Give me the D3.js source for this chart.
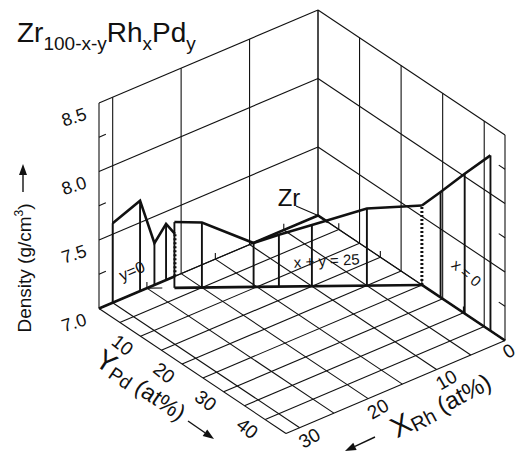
<!DOCTYPE html>
<html>
<head>
<meta charset="utf-8">
<script src="https://cdn.jsdelivr.net/npm/d3@7"></script>
<style>
  body { margin: 0; background: #fff; }
  text { font-family: "Liberation Sans", Arial, sans-serif; fill: #111; }
</style>
</head>
<body>
<div id="chart"></div>
<script>
// axis ranges and ticks
const rhMax = 32;
const pdMax = 45;
const densityMin = 7.0;
const densityMax = 8.5;
const densityTicks = [7.0, 7.5, 8.0, 8.5];
const densityMinor = [7.25, 7.75, 8.25];
const rhTicks = [0, 10, 20, 30];
const pdTicks = [10, 20, 30, 40];
const rhWallGrid = [10, 20, 30];
const pdWallGrid = [10, 20, 30, 40];
const rhFloorGrid = [0, 5, 10, 15, 20, 25, 30, 32];
const pdFloorGrid = [0, 5, 10, 15, 20, 25, 30, 35, 40, 45];
const rhMinor = [5, 15, 25];
const pdMinor = [5, 15, 25, 35];

// section y = 0 (Zr-Rh), last point dotted
const y0Rh = [30, 26, 23.9, 22.2, 20.9];
const y0Density = [7.58, 7.66, 7.305, 7.41, 7.31];

// section x = 0 (Zr-Pd), first point dotted
const x0Pd = [25, 29.5, 35.3, 41.5];
const x0Density = [7.58, 7.77, 8.02, 8.28];

// section x + y = 25, given by Rh content, last point dotted
const sRh = [22.5, 20, 15.3, 13, 10, 5, 0];
const sDensity = [7.48, 7.475, 7.32, 7.378, 7.447, 7.563, 7.58];

// binaries running toward pure Zr below the floor
const zrRh = [9.5, 0, 0];
const zrPd = [0, 0, 2.4];

const width = 520, height = 452;
const ox = 318, oy = 215.5;

// projection: one scale per screen component
const rhX = d3.scaleLinear().domain([0, rhMax]).range([0, -219]);
const rhY = d3.scaleLinear().domain([0, rhMax]).range([0, 93]);
const pdX = d3.scaleLinear().domain([0, pdMax]).range([0, 187]);
const pdY = d3.scaleLinear().domain([0, pdMax]).range([0, 125]);
const dY = d3.scaleLinear().domain([densityMin, densityMax]).range([0, -205.5]);

function proj(x, y, d) {
  return [ox + rhX(x) + pdX(y), oy + rhY(x) + pdY(y) + dY(d)];
}

const svg = d3.select('#chart').append('svg')
  .attr('width', width)
  .attr('height', height)
  .attr('viewBox', `0 0 ${width} ${height}`);

const line = d3.line();

function seg(g, pts, w, dash) {
  const p = g.append('path')
    .attr('d', line(pts.map(q => proj(q[0], q[1], q[2]))))
    .attr('fill', 'none')
    .attr('stroke', '#111')
    .attr('stroke-width', w)
    .attr('stroke-linejoin', 'miter');
  if (dash) p.attr('stroke-dasharray', dash);
  return p;
}

const grid = svg.append('g').attr('class', 'grid');

// floor
pdFloorGrid.forEach(y => seg(grid, [[0, y, 7], [rhMax, y, 7]], 1.1));
rhFloorGrid.forEach(x => seg(grid, [[x, 0, 7], [x, pdMax, 7]], 1.1));

// left wall (y = 0)
densityTicks.forEach(d => seg(grid, [[0, 0, d], [rhMax, 0, d]], 1.1));
rhWallGrid.concat([rhMax]).forEach(x => seg(grid, [[x, 0, 7], [x, 0, densityMax]], 1.1));

// right wall (x = 0)
densityTicks.forEach(d => seg(grid, [[0, 0, d], [0, pdMax, d]], 1.1));
pdWallGrid.concat([pdMax]).forEach(y => seg(grid, [[0, y, 7], [0, y, densityMax]], 1.1));

// corner
seg(grid, [[0, 0, 7], [0, 0, densityMax]], 1.5);

// minor ticks
densityMinor.forEach(d => {
  seg(grid, [[rhMax, 0, d], [rhMax - 1, 0, d]], 1.1);
  seg(grid, [[0, pdMax, d], [0, pdMax - 1.5, d]], 1.1);
});
rhMinor.forEach(x => seg(grid, [[x, 0, 7], [x, 0, 7.045]], 1.1));
pdMinor.forEach(y => seg(grid, [[0, y, 7], [0, y, 7.045]], 1.1));

// data
const data = svg.append('g').attr('class', 'data');
const bold = 2.6;

// y = 0
seg(data, [[rhMax, 0, 7], [y0Rh[y0Rh.length - 1], 0, 7]], bold);
seg(data, y0Rh.map((x, i) => [x, 0, y0Density[i]]), bold);
y0Rh.forEach((x, i) => {
  const last = i === y0Rh.length - 1;
  seg(data, [[x, 0, 7], [x, 0, y0Density[i]]], last ? 3 : 1.9, last ? '2,2' : null);
});

// x = 0
seg(data, [[0, x0Pd[0], 7], [0, pdMax, 7]], bold);
seg(data, x0Pd.map((y, i) => [0, y, x0Density[i]]), bold);
x0Pd.forEach((y, i) => {
  seg(data, [[0, y, 7], [0, y, x0Density[i]]], i === 0 ? 3 : 1.9, i === 0 ? '2,2' : null);
});

// x + y = 25
seg(grid, [[25, 0, 7], [23.6, 1.4, 7]], 1.1);
seg(data, [[sRh[0], 25 - sRh[0], 7], [0, 25, 7]], bold);
seg(data, sRh.map((x, i) => [x, 25 - x, sDensity[i]]), bold);
sRh.forEach((x, i) => {
  if (i === sRh.length - 1) return;
  seg(data, [[x, 25 - x, 7], [x, 25 - x, sDensity[i]]], 1.9);
});

// toward Zr
seg(data, zrRh.map((x, i) => [x, zrPd[i], 7]), bold);

// labels
const labels = svg.append('g').attr('class', 'labels');

function label(x, y, str, size, rot, anchor) {
  return labels.append('text')
    .attr('transform', `translate(${x},${y}) rotate(${rot || 0})`)
    .attr('text-anchor', anchor || 'middle')
    .attr('font-size', size)
    .text(str);
}

densityTicks.forEach(d => {
  const p = proj(rhMax, 0, d);
  label(p[0] - 23, p[1] + 20, d.toFixed(1), 18, -18);
});
rhTicks.forEach(x => {
  const p = proj(x, pdMax, 7);
  label(p[0] + (x === 0 ? 7 : 13), p[1] + 16, x, 19, -30);
});
pdTicks.forEach(y => {
  const p = proj(rhMax, y, 7);
  label(p[0] - 22, p[1] + 14, y, 19, 38);
});

// title
const title = labels.append('text').attr('x', 17).attr('y', 42).attr('font-size', 28);
title.append('tspan').text('Zr');
title.append('tspan').attr('font-size', 19).attr('dy', 8).text('100-x-y');
title.append('tspan').attr('dy', -8).text('Rh');
title.append('tspan').attr('font-size', 19).attr('dy', 8).text('x');
title.append('tspan').attr('dy', -8).text('Pd');
title.append('tspan').attr('font-size', 19).attr('dy', 8).text('y');

// density axis
const dl = labels.append('text')
  .attr('transform', 'translate(31,268) rotate(-90)')
  .attr('text-anchor', 'middle')
  .attr('font-size', 19);
dl.append('tspan').text('Density (g/cm');
dl.append('tspan').attr('font-size', 12).attr('dy', -8).text('3');
dl.append('tspan').attr('dy', 8).text(')');

function arrow(x1, y1, x2, y2) {
  const a = Math.atan2(y2 - y1, x2 - x1);
  const len = 11, half = 4;
  const bx = x2 - len * Math.cos(a), by = y2 - len * Math.sin(a);
  labels.append('line')
    .attr('x1', x1).attr('y1', y1).attr('x2', bx).attr('y2', by)
    .attr('stroke', '#111').attr('stroke-width', 1.4);
  labels.append('path')
    .attr('d', line([
      [x2, y2],
      [bx + half * Math.sin(a), by - half * Math.cos(a)],
      [bx - half * Math.sin(a), by + half * Math.cos(a)]
    ]) + 'Z')
    .attr('fill', '#111');
}
arrow(23, 192, 23, 164);

// Y axis title
const yl = labels.append('text')
  .attr('transform', 'translate(136,393) rotate(34)')
  .attr('text-anchor', 'middle')
  .attr('font-size', 23);
yl.append('tspan').attr('font-size', 28).text('Y');
yl.append('tspan').attr('font-size', 19).attr('dy', 3).text('Pd');
yl.append('tspan').attr('dy', -3).text(' (at%)');
arrow(188, 421, 214, 439);

// X axis title
const xl = labels.append('text')
  .attr('transform', 'translate(445,413) rotate(-28)')
  .attr('text-anchor', 'middle')
  .attr('font-size', 24);
xl.append('tspan').attr('font-size', 29).text('X');
xl.append('tspan').attr('font-size', 20).attr('dy', 3).text('Rh');
xl.append('tspan').attr('dy', -3).text(' (at%)');
arrow(375, 437, 345, 451);

// section labels
label(134, 276, 'y=0', 16, -23);
label(327, 266, 'x + y = 25', 15, -3);
label(463, 277, 'x = 0', 15, 40);
label(289, 206, 'Zr', 24, 0);
labels.append('line')
  .attr('x1', 296).attr('y1', 206)
  .attr('x2', proj(0, 0, 7)[0]).attr('y2', proj(0, 0, 7)[1])
  .attr('stroke', '#111').attr('stroke-width', 1.1);
</script>
</body>
</html>
